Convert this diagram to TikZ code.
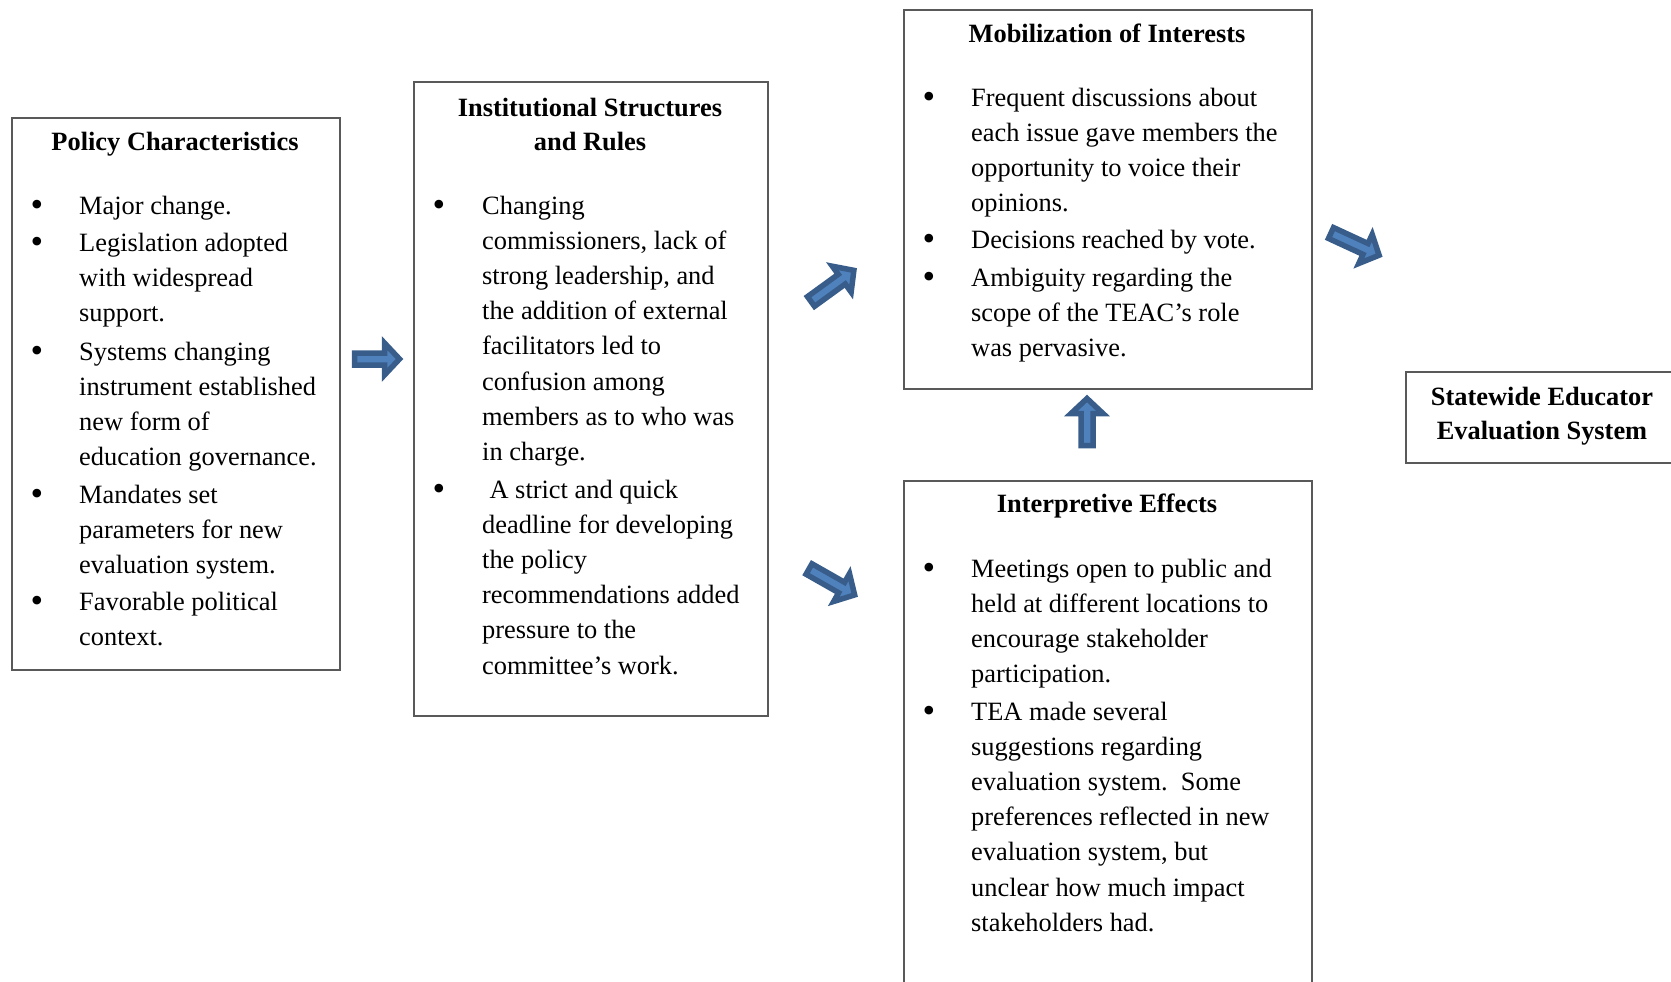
\documentclass[tikz,border=0pt]{standalone}
\usepackage{fontspec}
\setmainfont{Liberation Serif}
\definecolor{boxline}{HTML}{595959}
\definecolor{arrowfill}{HTML}{4F81BD}
\definecolor{arrowedge}{HTML}{385D8A}
\newcommand\txtlines[1]{\begin{tabular}[t]{@{}l@{}}#1\end{tabular}}
\newcommand\ctrlines[1]{\begin{tabular}[t]{@{}c@{}}#1\end{tabular}}
\tikzset{
  panel/.style={draw=boxline, line width=1.6bp, inner sep=0pt, anchor=north west},
  body/.style={font=\fontsize{26.4bp}{35.2bp}\selectfont, inner sep=0pt, anchor=base west},
  head/.style={font=\fontsize{26.4bp}{34bp}\selectfont\bfseries, inner sep=0pt, anchor=base},
  bul/.style={font=\fontsize{36bp}{36bp}\selectfont, inner sep=0pt, anchor=base, yshift=-2bp},
  blockarrow/.style={fill=arrowfill, draw=arrowedge, line width=5.5bp, line join=miter},
  pics/fatarrow/.style={code={
    \path[blockarrow] (0,-6) -- (#1-15,-6) -- (#1-15,-16) -- (#1,0)
      -- (#1-15,16) -- (#1-15,6) -- (0,6) -- cycle;
  }},
}
\begin{document}
\begin{tikzpicture}[x=1bp,y=-1bp]
\useasboundingbox (0,0) rectangle (1671,981);
\clip (0,0) rectangle (1671,981);

% Policy Characteristics
\node[panel, minimum width=328bp, minimum height=552bp] (policy) at (11,117) {};
\node[head] (policyT) at (175,150) {Policy Characteristics};
\node[bul] (pb1) at (37,214) {•};
\node[body] (pt1) at (79,214) {\txtlines{Major change.}};
\node[bul] (pb2) at (37,251) {•};
\node[body] (pt2) at (79,251) {\txtlines{Legislation adopted\\with widespread\\support.}};
\node[bul] (pb3) at (37,360) {•};
\node[body] (pt3) at (79,360) {\txtlines{Systems changing\\instrument established\\new form of\\education governance.}};
\node[bul] (pb4) at (37,503) {•};
\node[body] (pt4) at (79,503) {\txtlines{Mandates set\\parameters for new\\evaluation system.}};
\node[bul] (pb5) at (37,610) {•};
\node[body] (pt5) at (79,610) {\txtlines{Favorable political\\context.}};

% Institutional Structures and Rules
\node[panel, minimum width=354bp, minimum height=634bp] (inst) at (413,81) {};
\node[head] (instT) at (590,116) {\ctrlines{Institutional Structures\\and Rules}};
\node[bul] (ib1) at (439,214) {•};
\node[body] (it1) at (482,214) {\txtlines{Changing\\commissioners, lack of\\strong leadership, and\\the addition of external\\facilitators led to\\confusion among\\members as to who was\\in charge.}};
\node[bul] (ib2) at (439,498) {•};
\node[body] (it2) at (482,498) {\txtlines{\hspace{0.28em}A strict and quick\\deadline for developing\\the policy\\recommendations added\\pressure to the\\committee’s work.}};

% Mobilization of Interests
\node[panel, minimum width=408bp, minimum height=379bp] (mob) at (903,9) {};
\node[head] (mobT) at (1107,42) {Mobilization of Interests};
\node[bul] (mb1) at (929,106) {•};
\node[body] (mt1) at (971,106) {\txtlines{Frequent discussions about\\each issue gave members the\\opportunity to voice their\\opinions.}};
\node[bul] (mb2) at (929,248) {•};
\node[body] (mt2) at (971,248) {\txtlines{Decisions reached by vote.}};
\node[bul] (mb3) at (929,286) {•};
\node[body] (mt3) at (971,286) {\txtlines{Ambiguity regarding the\\scope of the TEAC’s role\\was pervasive.}};

% Interpretive Effects
\node[panel, minimum width=408bp, minimum height=540bp] (interp) at (903,480) {};
\node[head] (interpT) at (1107,512) {Interpretive Effects};
\node[bul] (eb1) at (929,577) {•};
\node[body] (et1) at (971,577) {\txtlines{Meetings open to public and\\held at different locations to\\encourage stakeholder\\participation.}};
\node[bul] (eb2) at (929,720) {•};
\node[body] (et2) at (971,720) {\txtlines{TEA made several\\suggestions regarding\\evaluation system.\hspace{0.5em}Some\\preferences reflected in new\\evaluation system, but\\unclear how much impact\\stakeholders had.}};

% Statewide Educator Evaluation System
\node[panel, minimum width=320bp, minimum height=91bp] (seval) at (1405,371) {};
\node[head] (sevalT) at (1542,405) {\ctrlines{Statewide Educator\\Evaluation System}};

% block arrows
\pic (a1) at (354.5,359) {fatarrow=45};
\pic[rotate=36] (a2) at (811,301.5) {fatarrow=53};
\pic[rotate=-29.6] (a3) at (809,569) {fatarrow=52.5};
\pic[rotate=90] (a4) at (1087,445.5) {fatarrow=47};
\pic[rotate=-24.8] (a5) at (1331,233) {fatarrow=53};
\end{tikzpicture}
\end{document}
